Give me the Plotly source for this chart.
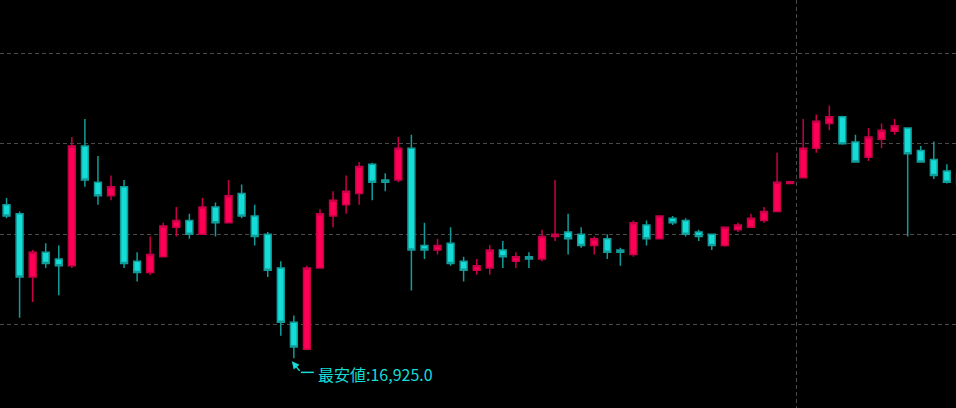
import plotly.graph_objects as go

# ---- data ----
idx = list(range(74))
opens = [17265, 17245, 17105, 17160, 17145, 17130, 17395, 17315, 17285, 17305,
         17140, 17115, 17150, 17215, 17230, 17200, 17260, 17225, 17290, 17240,
         17200, 17125, 17005, 16945, 17125, 17240, 17265, 17290, 17355, 17320,
         17320, 17390, 17175, 17165, 17180, 17140, 17120, 17125, 17165, 17140,
         17150, 17145, 17195, 17205, 17200, 17175, 17190, 17165, 17155, 17220,
         17190, 17235, 17230, 17205, 17200, 17175, 17210, 17215, 17230, 17250,
         17312, 17325, 17390, 17445, 17460, 17404, 17370, 17410, 17428, 17435,
         17385, 17365, 17340, 17310]
highs = [17280, 17250, 17165, 17180, 17175, 17415, 17455, 17373, 17330, 17320,
         17160, 17195, 17225, 17260, 17245, 17280, 17270, 17320, 17310, 17265,
         17205, 17140, 17020, 17130, 17255, 17295, 17330, 17360, 17358, 17335,
         17415, 17420, 17225, 17190, 17215, 17150, 17145, 17176, 17185, 17160,
         17160, 17210, 17320, 17245, 17215, 17195, 17200, 17170, 17230, 17230,
         17242, 17240, 17235, 17210, 17200, 17215, 17225, 17245, 17260, 17380,
         17318, 17455, 17465, 17485, 17462, 17420, 17435, 17445, 17455, 17436,
         17395, 17405, 17355, 17340]
lows = [17235, 17015, 17050, 17125, 17065, 17125, 17305, 17265, 17275, 17125,
        17095, 17110, 17150, 17195, 17190, 17200, 17195, 17225, 17235, 17175,
        17105, 16975, 16925, 16945, 17125, 17215, 17245, 17265, 17275, 17295,
        17315, 17075, 17145, 17155, 17130, 17095, 17110, 17110, 17125, 17125,
        17125, 17140, 17185, 17155, 17170, 17155, 17145, 17130, 17150, 17175,
        17190, 17220, 17195, 17185, 17165, 17172, 17205, 17215, 17225, 17250,
        17311, 17325, 17380, 17430, 17398, 17358, 17362, 17390, 17420, 17195,
        17358, 17322, 17312, 17305]
closes = [17240, 17105, 17160, 17135, 17130, 17395, 17320, 17285, 17305, 17135,
          17115, 17155, 17218, 17230, 17200, 17260, 17225, 17285, 17240, 17195,
          17120, 17005, 16950, 17125, 17245, 17275, 17295, 17350, 17315, 17315,
          17390, 17165, 17165, 17175, 17135, 17120, 17130, 17165, 17150, 17150,
          17145, 17195, 17200, 17190, 17175, 17190, 17160, 17160, 17225, 17190,
          17240, 17225, 17200, 17195, 17175, 17215, 17220, 17235, 17250, 17315,
          17316, 17390, 17450, 17460, 17400, 17360, 17415, 17430, 17440, 17378,
          17360, 17330, 17315, 17335]
grid_prices = [17000, 17200, 17400, 17600]
day_break = [60.5]
low_label = "最安値:16,925.0"

UP_FILL, UP_LINE = "#ff0055", "#c8004a"
DN_FILL, DN_LINE = "#14dcd6", "#119c9a"

low_i = lows.index(min(lows))

fig = go.Figure(go.Candlestick(
    x=idx, open=opens, high=highs, low=lows, close=closes,
    increasing=dict(fillcolor=UP_FILL, line=dict(color=UP_LINE, width=1.5)),
    decreasing=dict(fillcolor=DN_FILL, line=dict(color=DN_LINE, width=1.5)),
    whiskerwidth=0, hoverinfo="skip", showlegend=False,
))

fig.update_layout(
    width=956, height=408,
    margin=dict(l=0, r=0, t=0, b=0),
    paper_bgcolor="#000000", plot_bgcolor="#000000",
    boxgap=0.25,
    showlegend=False,
    xaxis=dict(range=[-0.5, 72.7], rangeslider=dict(visible=False),
               tickvals=day_break, showticklabels=False, ticks="",
               showgrid=True, gridcolor="#4a4a4a", griddash="4px,3px", gridwidth=1,
               zeroline=False, showline=False),
    yaxis=dict(range=[16815.1, 17718.4], tickvals=grid_prices, showticklabels=False,
               ticks="", showgrid=True, gridcolor="#4a4a4a", griddash="4px,3px",
               gridwidth=1, zeroline=False, showline=False),
)

# arrow pointing to the lowest low
fig.add_annotation(x=idx[low_i], y=lows[low_i], xref="x", yref="y", text="",
                   showarrow=True, arrowhead=2, arrowsize=1, arrowwidth=1.5,
                   arrowcolor=DN_FILL, axref="pixel", ayref="pixel", ax=9, ay=11,
                   xshift=-2, yshift=-3, standoff=0)
fig.add_shape(type="line", xref="x", yref="y", xsizemode="pixel", ysizemode="pixel",
              xanchor=idx[low_i], yanchor=lows[low_i], x0=7, x1=20, y0=-14, y1=-14,
              line=dict(color=DN_FILL, width=1.5))
fig.add_annotation(x=idx[low_i], y=lows[low_i], xref="x", yref="y", text=low_label,
                   showarrow=False, xanchor="left", yanchor="middle",
                   xshift=22, yshift=-16,
                   font=dict(family="Noto Sans CJK JP", size=16, color=DN_FILL))

fig.write_html(
    "out.html",
    config={"displayModeBar": False},
    post_script="document.body.style.margin='0';document.body.style.overflow='hidden';"
                "document.body.style.background='#000';",
)
